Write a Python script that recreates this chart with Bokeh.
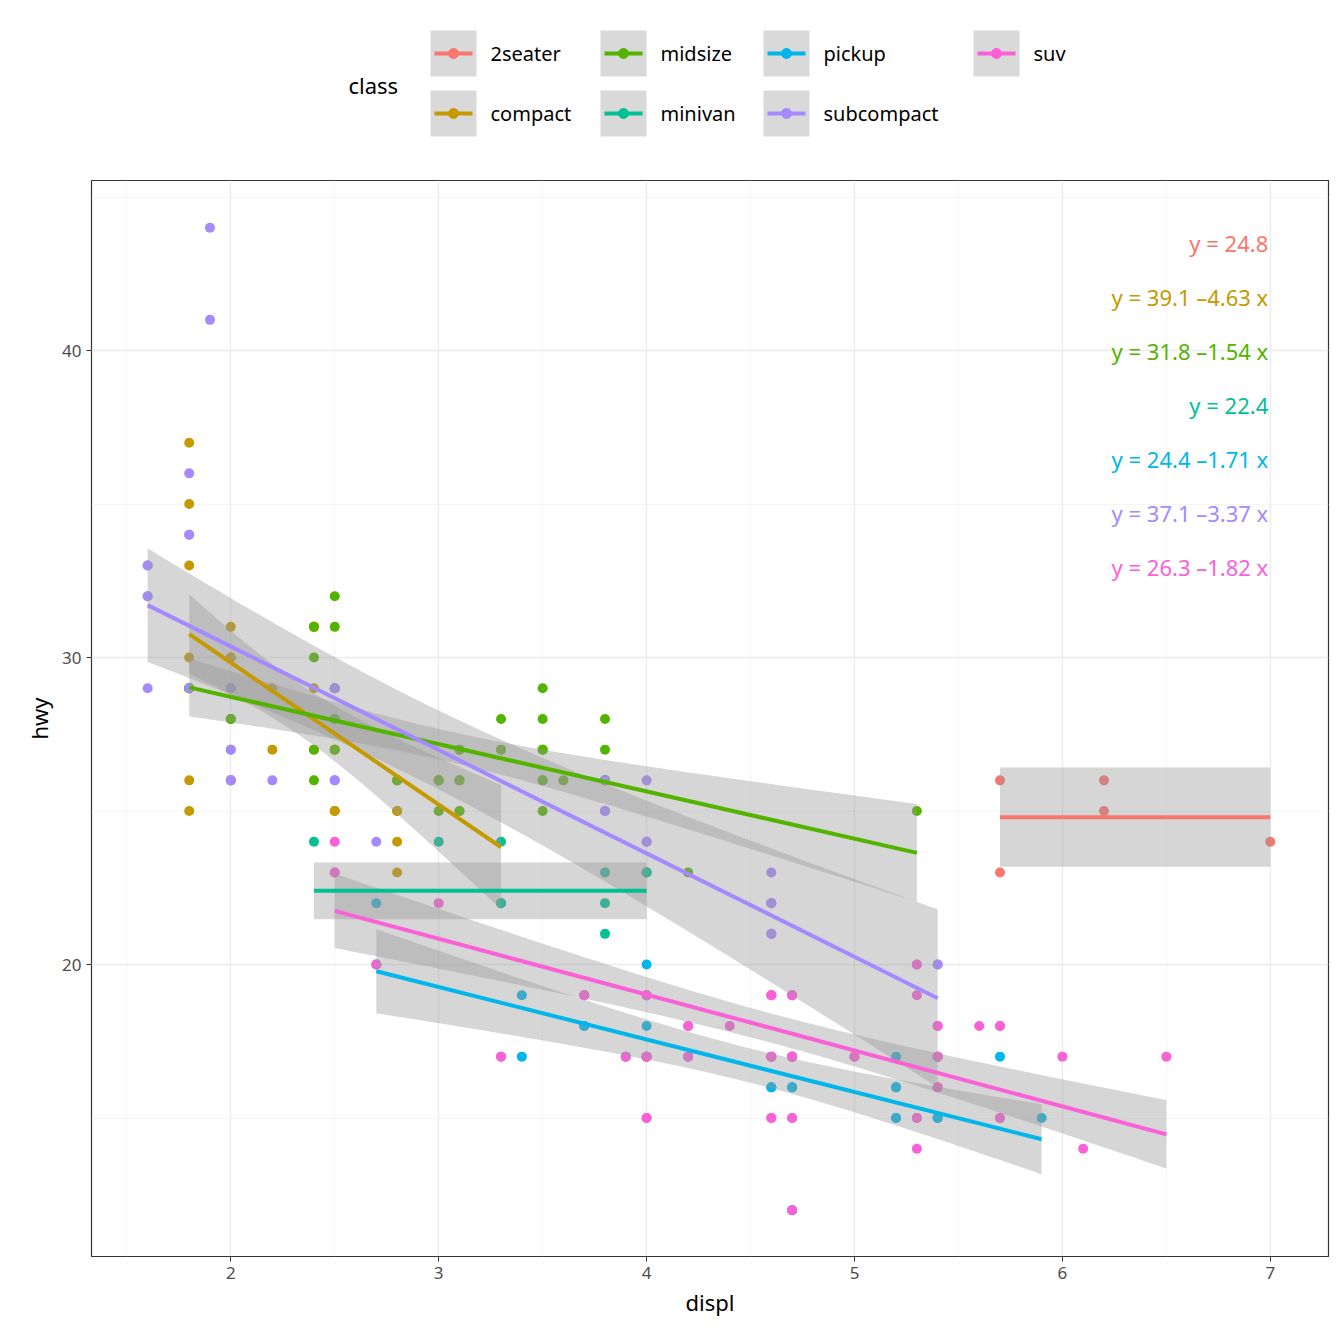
import numpy as np
from bokeh.plotting import figure
from bokeh.layouts import column
from bokeh.models import Range1d, FixedTicker, Label
from bokeh.embed import file_html
from bokeh.resources import INLINE

classes = ["2seater", "compact", "midsize", "minivan", "pickup", "subcompact", "suv"]
colors = ["#F8766D", "#C49A00", "#53B400", "#00C094", "#00B6EB", "#A58AFF", "#FB61D7"]

displ_2seater = [5.7, 5.7, 6.2, 6.2, 7.0]
hwy_2seater = [26, 23, 26, 25, 24]
displ_compact = [1.8, 1.8, 2.0, 2.0, 2.8, 2.8, 3.1, 1.8, 1.8, 2.0, 2.0, 2.8, 2.8, 3.1, 1.8, 1.8, 1.8,
                 1.8, 2.2, 2.2, 2.4, 2.4, 3.0, 3.3, 2.4, 2.5, 2.5, 2.5, 2.8, 2.8, 2.5, 2.0, 2.4, 1.8, 2.0, 2.5, 2.0]
hwy_compact = [29, 29, 31, 30, 26, 26, 27, 26, 25, 28, 26, 25, 25, 25, 37, 35, 33,
               30, 27, 29, 31, 27, 26, 27, 29, 29, 27, 25, 24, 23, 25, 29, 31, 29, 30, 27, 26]
displ_midsize = [1.8, 2.0, 2.0, 2.4, 2.4, 2.5, 2.5, 2.5, 3.0, 3.1, 3.1, 3.3, 3.5, 3.5, 3.5, 3.5, 3.5,
                 3.6, 3.8, 3.8, 3.8, 4.0, 4.2, 5.3, 2.8, 2.5, 3.1, 1.8, 2.4, 3.0, 3.5, 2.4, 3.3, 3.5, 3.8, 2.5, 1.8, 2.0, 3.1, 2.5, 3.0]
hwy_midsize = [29, 29, 28, 30, 26, 32, 31, 28, 25, 27, 26, 28, 29, 28, 27, 26, 25,
               26, 28, 27, 26, 23, 23, 25, 26, 29, 25, 29, 27, 26, 27, 31, 27, 26, 26, 28, 29, 28, 26, 27, 26]
displ_minivan = [2.4, 3.0, 3.3, 3.3, 3.8, 3.8, 3.8, 4.0, 3.3, 3.8, 4.0]
hwy_minivan = [24, 24, 24, 22, 23, 22, 21, 23, 22, 26, 23]
displ_pickup = [2.7, 2.7, 3.4, 3.4, 3.7, 3.7, 3.9, 4.0, 4.0, 4.2, 4.6, 4.6, 4.7, 4.7, 4.7, 5.2, 5.2, 5.2,
                5.4, 5.7, 5.9, 4.7, 4.0, 4.7, 5.2, 4.6, 3.7, 4.7, 5.4, 4.0, 4.7, 5.2, 5.4]
hwy_pickup = [20, 22, 19, 17, 18, 19, 17, 20, 18, 17, 17, 16, 16, 17, 19, 17, 16, 15,
              15, 17, 15, 12, 19, 17, 15, 16, 18, 16, 17, 17, 12, 16, 15]
displ_subcompact = [1.6, 1.6, 1.6, 1.8, 1.8, 1.9, 1.9, 2.0, 2.0, 2.2, 2.5, 2.5, 2.7, 3.8, 4.0, 4.0, 4.6,
                    4.6, 4.6, 5.4, 1.6, 1.8, 2.0, 2.5, 3.8, 4.6, 1.6, 2.0, 2.5, 4.0, 1.8, 3.8, 4.6, 5.4, 2.0]
hwy_subcompact = [33, 32, 29, 36, 34, 44, 41, 27, 26, 26, 29, 26, 24, 25, 26, 24, 23,
                  22, 21, 20, 32, 29, 26, 29, 26, 22, 33, 29, 26, 24, 34, 25, 21, 20, 27]
displ_suv = [2.5, 2.5, 3.3, 4.0, 4.0, 4.0, 4.2, 4.4, 4.6, 4.6, 4.7, 4.7, 4.7, 4.7, 5.0, 5.3, 5.3, 5.3, 5.3,
             5.4, 5.4, 5.4, 5.6, 5.7, 5.7, 6.0, 6.1, 6.5, 3.0, 3.7, 3.9, 4.0, 4.7, 5.4, 4.6, 4.0, 5.7, 5.0, 4.7,
             4.0, 4.6, 5.3, 4.2, 5.4, 2.7, 4.0, 4.7, 3.3, 5.7, 5.4, 4.6, 4.0, 4.7, 2.5, 5.3, 4.0, 4.6, 5.4, 4.7, 4.2, 3.7, 4.6]
hwy_suv = [24, 23, 17, 19, 17, 15, 18, 18, 19, 15, 19, 17, 15, 12, 17, 20, 19, 15, 14,
           18, 17, 16, 18, 18, 15, 17, 14, 17, 22, 19, 17, 19, 17, 17, 17, 17, 18, 17, 19,
           17, 19, 15, 18, 16, 20, 15, 17, 17, 15, 18, 17, 19, 17, 23, 20, 17, 15, 17, 15, 17, 19, 19]

displ = [displ_2seater, displ_compact, displ_midsize, displ_minivan, displ_pickup, displ_subcompact, displ_suv]
hwy = [hwy_2seater, hwy_compact, hwy_midsize, hwy_minivan, hwy_pickup, hwy_subcompact, hwy_suv]

eq_intercept = [24.8, 39.1, 31.8, 22.4, 24.4, 37.1, 26.3]
eq_slope = [0.0, -4.63, -1.54, 0.0, -1.71, -3.37, -1.82]
eq_labels = ["y = 24.8", "y = 39.1 \u20134.63 x", "y = 31.8 \u20131.54 x", "y = 22.4",
             "y = 24.4 \u20131.71 x", "y = 37.1 \u20133.37 x", "y = 26.3 \u20131.82 x"]
eq_y = [43.51, 41.75, 39.99, 38.23, 36.47, 34.71, 32.95]


def tq(df):
    z = 1.959964
    return z + (z**3 + z) / (4 * df) + (5 * z**5 + 16 * z**3 + 3 * z) / (96 * df**2) + \
        (3 * z**7 + 19 * z**5 + 17 * z**3 - 15 * z) / (384 * df**3)


p = figure(width=1336, height=1168, output_backend="svg", toolbar_location=None,
           x_range=Range1d(1.33, 7.28), y_range=Range1d(10.49, 45.54),
           min_border_left=91, min_border_right=8, min_border_top=12, min_border_bottom=80)
p.outline_line_color = "#333333"
p.outline_line_width = 1.2
p.background_fill_color = "white"
for ax, ticks in ((p.xaxis[0], [2, 3, 4, 5, 6, 7]), (p.yaxis[0], [20, 30, 40])):
    ax.ticker = FixedTicker(ticks=ticks, minor_ticks=[])
    ax.axis_line_color = None
    ax.major_tick_line_color = "#333333"
    ax.major_tick_in = 0
    ax.major_tick_out = 5
    ax.minor_tick_line_color = None
    ax.major_label_text_font = "Noto Sans"
    ax.major_label_text_font_size = "17px"
    ax.major_label_text_color = "#4D4D4D"
    ax.axis_label_text_font = "Noto Sans"
    ax.axis_label_text_font_size = "22px"
    ax.axis_label_text_font_style = "normal"
    ax.axis_label_text_color = "black"
p.xaxis.axis_label = "displ"
p.yaxis.axis_label = "hwy"
p.xgrid.ticker = FixedTicker(ticks=[2, 3, 4, 5, 6, 7], minor_ticks=[1.5, 2.5, 3.5, 4.5, 5.5, 6.5, 7.5])
p.ygrid.ticker = FixedTicker(ticks=[20, 30, 40], minor_ticks=[15, 25, 35, 45])
for g in (p.xgrid, p.ygrid):
    g.grid_line_color = "#EBEBEB"
    g.grid_line_width = 1.3
    g.minor_grid_line_color = "#F2F2F2"
    g.minor_grid_line_width = 0.8

for i in range(7):
    p.scatter(displ[i], hwy[i], size=10, color=colors[i], line_color=None)

for i in range(7):
    x = np.array(displ[i], float)
    y = np.array(hwy[i], float)
    n = len(x)
    xs = np.linspace(x.min(), x.max(), 80)
    yfit = eq_intercept[i] + eq_slope[i] * xs
    if eq_slope[i] == 0:
        s = y.std(ddof=1)
        se = np.full_like(xs, s / np.sqrt(n))
        t = tq(n - 1)
    else:
        b, a = np.polyfit(x, y, 1)
        res = y - (a + b * x)
        s = np.sqrt((res**2).sum() / (n - 2))
        sxx = ((x - x.mean())**2).sum()
        se = s * np.sqrt(1 / n + (xs - x.mean())**2 / sxx)
        t = tq(n - 2)
    p.varea(x=xs, y1=yfit - t * se, y2=yfit + t * se, fill_color="#999999", fill_alpha=0.4)
for i in range(7):
    x = np.array(displ[i], float)
    xs = np.array([x.min(), x.max()])
    p.line(xs, eq_intercept[i] + eq_slope[i] * xs, line_color=colors[i], line_width=4)

for i in range(7):
    p.add_layout(Label(x=6.99, y=eq_y[i], text=eq_labels[i], text_align="right", text_baseline="middle",
                       text_color=colors[i], text_font="Noto Sans", text_font_size="22px"))

# legend (coordinates in page pixels; the frame is aligned with the main frame 91..1328)
lg = figure(width=1336, height=168, output_backend="svg", toolbar_location=None,
            x_range=Range1d(91, 1328), y_range=Range1d(168, 0), min_border=0,
            min_border_left=91, min_border_right=8,
            x_axis_location=None, y_axis_location=None)
lg.grid.visible = False
lg.outline_line_color = None
lg.add_layout(Label(x=348, y=84, text="class", text_baseline="middle", text_font="Noto Sans",
                    text_font_size="22px", text_color="black"))
col_x = [430, 600, 763, 973]
for i, c in enumerate(classes):
    cx = col_x[i // 2]
    cy = 53 if i % 2 == 0 else 113
    lg.rect(x=cx + 23, y=cy, width=46, height=46, fill_color="#D9D9D9", line_color=None)
    lg.line([cx + 4, cx + 42], [cy, cy], line_color=colors[i], line_width=4)
    lg.scatter([cx + 23], [cy], size=10, color=colors[i])
    lg.add_layout(Label(x=cx + 60, y=cy, text=c, text_baseline="middle", text_font="Noto Sans",
                        text_font_size="20px", text_color="black"))

layout = column(lg, p, spacing=0)
open("out.html", "w").write(file_html(layout, INLINE))
